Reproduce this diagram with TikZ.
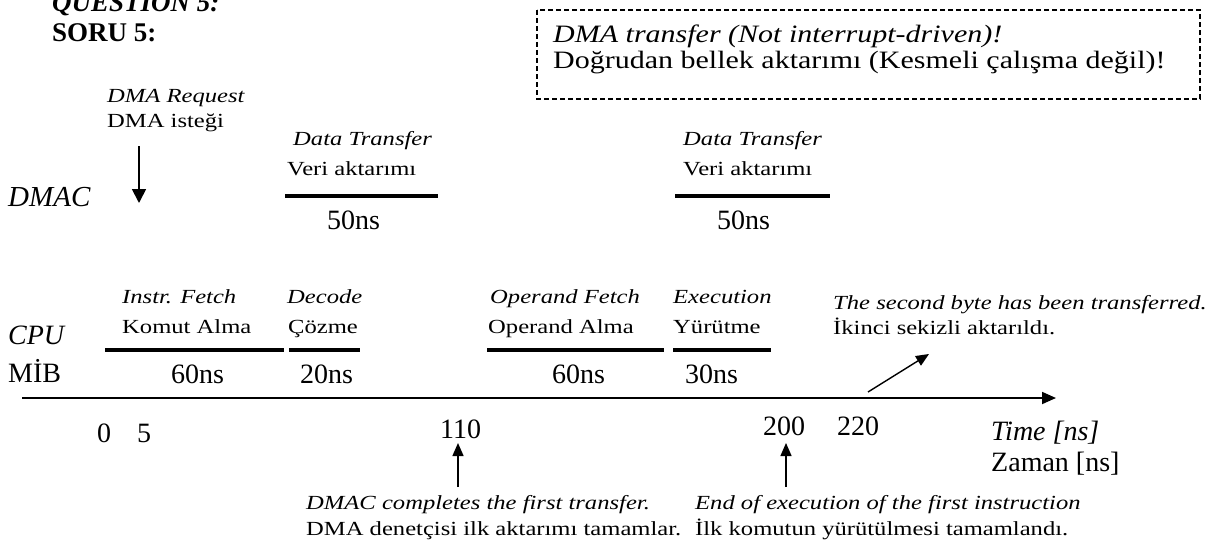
\documentclass[tikz,border=0pt]{standalone}
\usepackage{fontspec}
\setmainfont{Liberation Serif}
\newfontfamily\widefont[FakeStretch=1.23]{Liberation Serif}
\newfontfamily\boxfont[FakeStretch=1.2]{Liberation Serif}
\usetikzlibrary{arrows.meta}
\begin{document}
\begin{tikzpicture}[x=1pt,y=-1pt,
  txt/.style={anchor=base west,inner sep=0pt},
  lab/.style={txt,font=\widefont\fontsize{20}{24}\selectfont},
  labit/.style={txt,font=\widefont\itshape\fontsize{20}{24}\selectfont},
  big/.style={txt,font=\fontsize{28}{32}\selectfont},
  bigit/.style={txt,font=\itshape\fontsize{28}{32}\selectfont},
  title/.style={txt,font=\bfseries\fontsize{27}{30}\selectfont},
  phase/.style={line width=3.4pt},
  arr/.style={line width=1.8pt,-{Triangle[length=14pt,width=14pt]}},
  thinarr/.style={line width=1.4pt,-{Triangle[length=13pt,width=11pt]}}]
\useasboundingbox (0,0) rectangle (1220,551);

% headings
\node[title,font=\bfseries\itshape\fontsize{27}{30}\selectfont] (q) at (52,12) {QUESTION 5:};
\node[title] (soru) at (52,42) {SORU 5:};

% note box
\draw[line width=1.2pt,dash pattern=on 5pt off 3pt] (537,10) rectangle (1200,99);
\node[txt,font=\boxfont\itshape\fontsize{25}{28}\selectfont] (n1) at (553,43) {DMA transfer (Not interrupt-driven)!};
\node[txt,font=\boxfont\fontsize{25}{28}\selectfont] (n2) at (553,69) {Doğrudan bellek aktarımı (Kesmeli çalışma değil)!};

% DMAC row
\node[bigit,font=\itshape\fontsize{29}{32}\selectfont] (dmac) at (8,206) {DMAC};
\node[labit] (req) at (107,102) {DMA Request};
\node[lab] (req2) at (107,127) {DMA isteği};
\coordinate (reqa) at (139,146);
\coordinate (reqb) at (139,203);
\draw[arr] (reqa) -- (reqb);

\node[labit] (dt1) at (293,145) {Data Transfer};
\node[lab] (va1) at (287,175) {Veri aktarımı};
\coordinate (b1a) at (285,196); \coordinate (b1b) at (438,196);
\draw[phase] (b1a) -- (b1b);
\node[big] (t1) at (327,229) {50ns};

\node[labit] (dt2) at (683,145) {Data Transfer};
\node[lab] (va2) at (683,175) {Veri aktarımı};
\coordinate (b2a) at (675,196); \coordinate (b2b) at (830,196);
\draw[phase] (b2a) -- (b2b);
\node[big] (t2) at (717,229) {50ns};

% CPU row
\node[bigit] (cpu) at (8,344) {CPU};
\node[big] (mib) at (8,382) {MİB};

\node[labit] (if) at (122,303) {Instr. Fetch};
\node[lab] (if2) at (122,333) {Komut Alma};
\node[labit] (dc) at (287,303) {Decode};
\node[lab] (dc2) at (288,333) {Çözme};
\node[labit] (of) at (490,303) {Operand Fetch};
\node[lab] (of2) at (488,333) {Operand Alma};
\node[labit] (ex) at (673,303) {Execution};
\node[lab] (ex2) at (673,333) {Yürütme};

\coordinate (c1a) at (105,350); \coordinate (c1b) at (284,350);
\coordinate (c2a) at (289,350); \coordinate (c2b) at (360,350);
\coordinate (c3a) at (487,350); \coordinate (c3b) at (664,350);
\coordinate (c4a) at (673,350); \coordinate (c4b) at (771,350);
\draw[phase] (c1a) -- (c1b);
\draw[phase] (c2a) -- (c2b);
\draw[phase] (c3a) -- (c3b);
\draw[phase] (c4a) -- (c4b);

\node[big] (d1) at (171,383) {60ns};
\node[big] (d2) at (300,383) {20ns};
\node[big] (d3) at (552,383) {60ns};
\node[big] (d4) at (685,383) {30ns};

% time axis
\coordinate (ax0) at (22,398);
\coordinate (ax1) at (1056,398);
\draw[line width=1.8pt,-{Triangle[length=14pt,width=12pt]}] (ax0) -- (ax1);

\node[big] (z0) at (97,442) {0};
\node[big] (z5) at (137,442) {5};
\node[big] (z110) at (440,438) {110};
\node[big] (z200) at (763,435) {200};
\node[big] (z220) at (837,435) {220};
\node[bigit] (tl) at (991,440) {Time [ns]};
\node[big] (tl2) at (991,471) {Zaman [ns]};

% second byte
\node[labit] (sb) at (833,309) {The second byte has been transferred.};
\node[lab] (sb2) at (833,334) {İkinci sekizli aktarıldı.};
\coordinate (sba) at (868,392);
\coordinate (sbb) at (929,354);
\draw[thinarr] (sba) -- (sbb);

% events under the axis
\coordinate (e1a) at (458,487); \coordinate (e1b) at (458,443);
\draw[thinarr] (e1a) -- (e1b);
\node[labit] (ev1) at (306,509) {DMAC completes the first transfer.};
\node[lab] (ev1b) at (306,535) {DMA denetçisi ilk aktarımı tamamlar.};

\coordinate (e2a) at (786,487); \coordinate (e2b) at (786,443);
\draw[thinarr] (e2a) -- (e2b);
\node[labit] (ev2) at (695,509) {End of execution of the first instruction};
\node[lab] (ev2b) at (695,535) {İlk komutun yürütülmesi tamamlandı.};
\end{tikzpicture}
\end{document}
